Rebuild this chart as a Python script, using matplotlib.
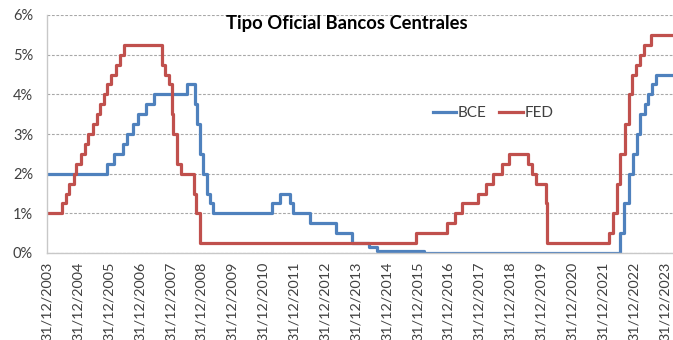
import matplotlib
matplotlib.use("Agg")
import matplotlib.pyplot as plt
import matplotlib.dates as mdates
import pandas as pd
from matplotlib.ticker import FuncFormatter

# BCE: fechas de cambio y tipo vigente (%)
bce_dates = ["2003-12-31", "2005-12-06", "2006-03-08", "2006-06-15", "2006-08-09",
             "2006-10-11", "2006-12-13", "2007-03-14", "2007-06-13", "2008-07-09",
             "2008-10-15", "2008-11-12", "2008-12-10", "2009-01-21", "2009-03-11",
             "2009-04-08", "2009-05-13", "2011-04-13", "2011-07-13", "2011-11-09",
             "2011-12-14", "2012-07-11", "2013-05-08", "2013-11-13", "2014-06-11",
             "2014-09-10", "2016-03-16", "2022-07-27", "2022-09-14", "2022-11-02",
             "2022-12-21", "2023-02-08", "2023-03-22", "2023-05-10", "2023-06-21",
             "2023-08-02", "2023-09-20", "2024-04-30"]
bce_rates = [2.00, 2.25, 2.50, 2.75, 3.00,
             3.25, 3.50, 3.75, 4.00, 4.25,
             3.75, 3.25, 2.50, 2.00, 1.50,
             1.25, 1.00, 1.25, 1.50, 1.25,
             1.00, 0.75, 0.50, 0.25, 0.15,
             0.05, 0.00, 0.50, 1.25, 2.00,
             2.50, 3.00, 3.50, 3.75, 4.00,
             4.25, 4.50, 4.50]

# FED: fechas de cambio y tipo vigente (%)
fed_dates = ["2003-12-31", "2004-06-30", "2004-08-10", "2004-09-21", "2004-11-10",
             "2004-12-14", "2005-02-02", "2005-03-22", "2005-05-03", "2005-06-30",
             "2005-08-09", "2005-09-20", "2005-11-01", "2005-12-13", "2006-01-31",
             "2006-03-28", "2006-05-10", "2006-06-29", "2007-09-18", "2007-10-31",
             "2007-12-11", "2008-01-22", "2008-01-30", "2008-03-18", "2008-04-30",
             "2008-10-08", "2008-10-29", "2008-12-16", "2015-12-16", "2016-12-14",
             "2017-03-15", "2017-06-14", "2017-12-13", "2018-03-21", "2018-06-13",
             "2018-09-26", "2018-12-19", "2019-07-31", "2019-09-18", "2019-10-30",
             "2020-03-03", "2020-03-15", "2022-03-16", "2022-05-04", "2022-06-15",
             "2022-07-27", "2022-09-21", "2022-11-02", "2022-12-14", "2023-02-01",
             "2023-03-22", "2023-05-03", "2023-07-26", "2024-04-30"]
fed_rates = [1.00, 1.25, 1.50, 1.75, 2.00,
             2.25, 2.50, 2.75, 3.00, 3.25,
             3.50, 3.75, 4.00, 4.25, 4.50,
             4.75, 5.00, 5.25, 4.75, 4.50,
             4.25, 3.50, 3.00, 2.25, 2.00,
             1.50, 1.00, 0.25, 0.50, 0.75,
             1.00, 1.25, 1.50, 1.75, 2.00,
             2.25, 2.50, 2.25, 2.00, 1.75,
             1.25, 0.25, 0.50, 1.00, 1.75,
             2.50, 3.25, 4.00, 4.50, 4.75,
             5.00, 5.25, 5.50, 5.50]

tick_years = list(range(2003, 2024))

BLUE = "#4F81BD"
RED = "#C0504D"

plt.rcParams["font.family"] = ["Lato", "DejaVu Sans"]

fig = plt.figure(figsize=(6.73, 3.40), dpi=100)
ax = fig.add_axes([47 / 673, 87 / 340, 1 - 47 / 673, 238 / 340])

ax.step(pd.to_datetime(bce_dates), bce_rates, where="post", color=BLUE, lw=2.3, label="BCE")
ax.step(pd.to_datetime(fed_dates), fed_rates, where="post", color=RED, lw=2.3, label="FED")

ax.set_ylim(0, 6)
ax.set_yticks(range(0, 7))
ax.yaxis.set_major_formatter(FuncFormatter(lambda v, p: "%d%%" % v))
ax.set_xlim(pd.Timestamp("2003-12-31"), pd.Timestamp("2024-04-10"))
ticks = [pd.Timestamp(f"{y}-12-31") for y in tick_years]
ax.set_xticks(ticks)
ax.xaxis.set_major_formatter(mdates.DateFormatter("%d/%m/%Y"))
ax.tick_params(axis="x", rotation=90, length=0, labelsize=10.4, labelcolor="#404040", pad=6)
ax.tick_params(axis="y", length=0, labelsize=10.5, labelcolor="#404040", pad=10)

ax.grid(axis="y", color="#A8A8A8", linestyle=(0, (2.5, 1.5)), lw=0.8)
ax.set_axisbelow(True)
for s in ["top", "right"]:
    ax.spines[s].set_visible(False)
for s in ["left", "bottom"]:
    ax.spines[s].set_color("#C8C8C8")
    ax.spines[s].set_linewidth(1)

fig.text(347 / 673, 1 - 23 / 340, "Tipo Oficial Bancos Centrales", ha="center", va="center",
         fontsize=13.2, fontweight="bold", color="black")

leg = ax.legend(loc="center", frameon=False, ncol=2, fontsize=11,
                handlelength=1.55, handletextpad=0.1, columnspacing=0.8)
leg.set_bbox_to_anchor(((493 - 47) / (673 - 47), (253 - 113) / 238), transform=ax.transAxes)
for t in leg.get_texts():
    t.set_color("#404040")

fig.savefig("out.png", dpi=100)
